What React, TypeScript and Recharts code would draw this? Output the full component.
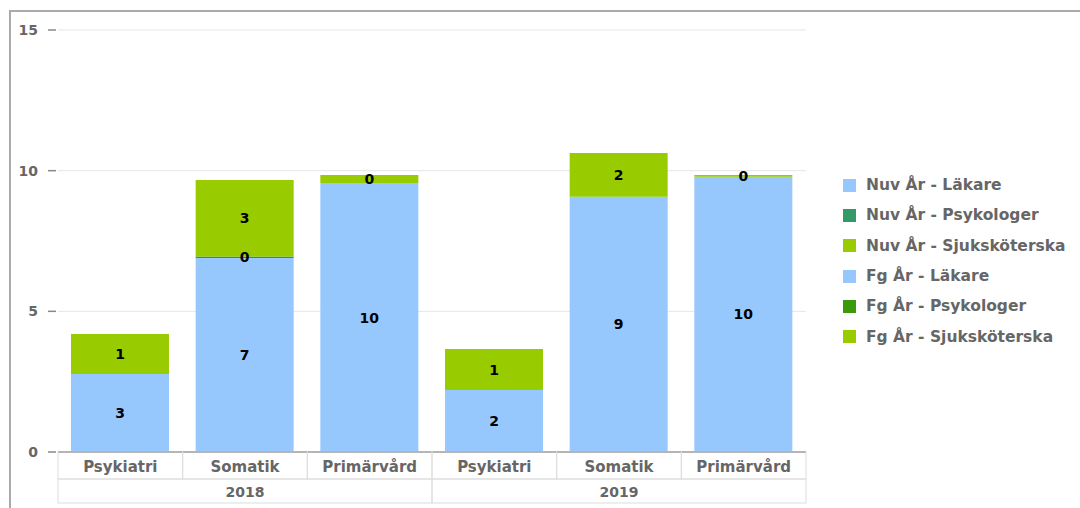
import { BarChart, Bar, XAxis, YAxis, CartesianGrid, LabelList } from 'recharts'

const categories = ['Psykiatri', 'Somatik', 'Primärvård', 'Psykiatri', 'Somatik', 'Primärvård']
const years = ['2018', '2018', '2018', '2019', '2019', '2019']

// Nuv År = 2019, Fg År = 2018
const nuvLakare = [null, null, null, 2.2, 9.07, 9.78]
const nuvPsykologer = [null, null, null, null, null, null]
const nuvSjuk = [null, null, null, 1.46, 1.56, 0.07]
const fgLakare = [2.77, 6.9, 9.56, null, null, null]
const fgPsykologer = [null, 0.05, null, null, null, null]
const fgSjuk = [1.42, 2.72, 0.29, null, null, null]

const yTicks = [0, 5, 10, 15]

const SERIES = [
  { key: 'nuvLakare', name: 'Nuv År - Läkare', color: '#96c8fe' },
  { key: 'nuvPsykologer', name: 'Nuv År - Psykologer', color: '#339966' },
  { key: 'nuvSjuk', name: 'Nuv År - Sjuksköterska', color: '#99cc00' },
  { key: 'fgLakare', name: 'Fg År - Läkare', color: '#96c8fe' },
  { key: 'fgPsykologer', name: 'Fg År - Psykologer', color: '#3a9a0a' },
  { key: 'fgSjuk', name: 'Fg År - Sjuksköterska', color: '#99cc00' },
]

const data = categories.map((cat, i) => ({
  cat,
  year: years[i],
  nuvLakare: nuvLakare[i],
  nuvPsykologer: nuvPsykologer[i],
  nuvSjuk: nuvSjuk[i],
  fgLakare: fgLakare[i],
  fgPsykologer: fgPsykologer[i],
  fgSjuk: fgSjuk[i],
}))

const FONT = '"DejaVu Sans", sans-serif'
const PLOT_LEFT = 58
const PLOT_RIGHT = 806
const BAND = (PLOT_RIGHT - PLOT_LEFT) / categories.length

function YTick({ x, y, payload }: any) {
  return (
    <g>
      <text x={x - 20} y={y + 5} textAnchor="end" fontFamily={FONT} fontWeight="bold" fontSize={14} fill="#666">
        {payload.value}
      </text>
      <line x1={x - 10} x2={x - 2} y1={y} y2={y} stroke="#888" strokeWidth={1.5} />
    </g>
  )
}

function XTick({ x, y, payload }: any) {
  const i = payload.index
  const left = x - BAND / 2
  return (
    <g>
      <rect x={left} y={y} width={BAND} height={27} fill="none" stroke="#ddd" />
      <text x={x} y={y + 20} textAnchor="middle" fontFamily={FONT} fontWeight="bold" fontSize={15} fill="#666">
        {payload.value}
      </text>
      {i % 3 === 0 && (
        <g>
          <rect x={left} y={y + 27} width={BAND * 3} height={24} fill="none" stroke="#ddd" />
          <text x={left + BAND * 1.5} y={y + 45} textAnchor="middle" fontFamily={FONT} fontWeight="bold" fontSize={14} fill="#666">
            {years[i]}
          </text>
        </g>
      )}
    </g>
  )
}

function BarLabel({ x, y, width, height, value }: any) {
  if (value === null || value === undefined) return null
  return (
    <text x={x + width / 2} y={y + height / 2 + 5} textAnchor="middle" fontFamily={FONT} fontWeight="bold" fontSize={14} fill="#000">
      {Math.round(value)}
    </text>
  )
}

export default function App() {
  return (
    <div style={{ position: 'absolute', left: 0, top: 0, width: 1080, height: 508, background: '#fff', overflow: 'hidden' }}>
      <div style={{ position: 'absolute', left: 9, top: 10, width: 1100, height: 600, borderTop: '2px solid #aaa', borderLeft: '2px solid #aaa' }} />
      <div style={{ position: 'absolute', left: 0, top: 0 }}>
        <BarChart width={1080} height={508} data={data} margin={{ top: 30, right: 274, bottom: 5, left: 8 }}>
          <CartesianGrid vertical={false} stroke="#e6e6e6" />
          <XAxis dataKey="cat" height={51} tickSize={0} tickMargin={0} interval={0} tick={<XTick />} axisLine={{ stroke: '#8c8c8c', strokeWidth: 2 }} tickLine={false} />
          <YAxis width={50} domain={[0, 15]} ticks={yTicks} tickSize={0} tickMargin={0} tick={<YTick />} axisLine={false} tickLine={false} />
          {SERIES.map(s => (
            <Bar key={s.key} dataKey={s.key} name={s.name} stackId="a" fill={s.color} barSize={98} isAnimationActive={false}>
              <LabelList dataKey={s.key} content={<BarLabel />} />
            </Bar>
          ))}
        </BarChart>
      </div>
      <div style={{ position: 'absolute', left: 843, top: 170, fontFamily: FONT, fontWeight: 'bold', fontSize: 15.5, color: '#666' }}>
        {SERIES.map(s => (
          <div key={s.key} style={{ display: 'flex', alignItems: 'center', height: 30.3 }}>
            <span style={{ width: 13, height: 13, background: s.color, marginRight: 10, flexShrink: 0 }} />
            <span style={{ whiteSpace: 'nowrap' }}>{s.name}</span>
          </div>
        ))}
      </div>
    </div>
  )
}
